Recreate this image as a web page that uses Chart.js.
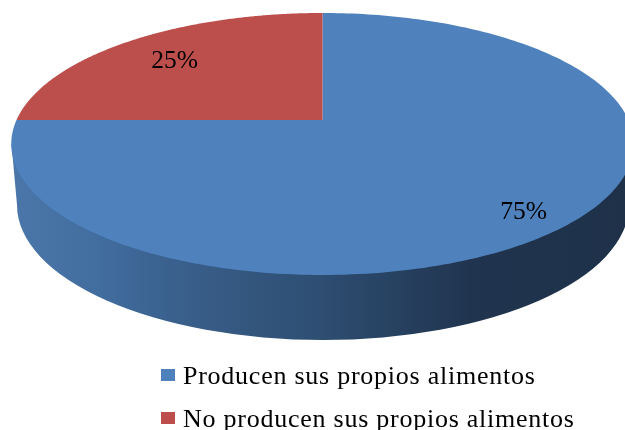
<!DOCTYPE html>
<html><head><meta charset="utf-8">
<style>html,body{margin:0;padding:0;background:#fff;overflow:hidden}canvas{display:block}</style>
<script src="https://cdn.jsdelivr.net/npm/chart.js@4"></script>
</head><body><canvas id="c" width="625" height="430"></canvas>
<script>
const categories = ['Producen sus propios alimentos', 'No producen sus propios alimentos'];
const shares = [75, 25];
const sliceColors = ['#4f81bd', '#bc4f4c'];
const labelSpots = [{r: 0.83, dy: 9}, {r: 0.75, dy: 2}];
const fontFamily = '"Liberation Serif", serif';
const tilt = {x: 322.5, y: 120, rx: 306, ry: 126.6, k: -0.183};
const rim = {x: 323, y: 205, rx: 306, ry: 135};
const topEdge = {x: 322.5, y: 144, rx: 311};
const sideStops = [[0, '#4a76a9'], [0.14, '#416d9f'], [0.3, '#385d88'], [0.5, '#2e4e72'], [0.75, '#20344f'], [1, '#1e3149']];

function project(t, f) {
  const u = Math.cos(t) * f, v = Math.sin(t) * f, d = 1 + tilt.k * v;
  return [tilt.x + tilt.rx * u / d, tilt.y + tilt.ry * v / d];
}
const swatch = color => {
  const c = document.createElement('canvas');
  c.width = 14; c.height = 16;
  const g = c.getContext('2d');
  g.fillStyle = color; g.fillRect(0, 0, 14, 12);
  return c;
};
const tiltPie = {
  id: 'tiltPie',
  beforeDraw(chart) {
    chart.ctx.letterSpacing = '0.75px';
  },
  beforeDatasetDraw(chart, args) {
    const ctx = chart.ctx;
    ctx.letterSpacing = '0px';
    ctx.save();
    // side wall
    const grad = ctx.createLinearGradient(12, 0, 625, 0);
    sideStops.forEach(s => grad.addColorStop(s[0], s[1]));
    ctx.fillStyle = grad;
    ctx.beginPath();
    ctx.ellipse(rim.x, rim.y, rim.rx, rim.ry, 0, 0, Math.PI);
    ctx.lineTo(topEdge.x - topEdge.rx, topEdge.y);
    ctx.lineTo(topEdge.x + topEdge.rx, topEdge.y);
    ctx.closePath();
    ctx.fill();
    // top face from the library's arc elements
    args.meta.data.forEach((el, i) => {
      const p = el.getProps(['startAngle', 'endAngle'], true);
      ctx.beginPath();
      ctx.moveTo(tilt.x, tilt.y);
      const n = 240;
      for (let j = 0; j <= n; j++) {
        const q = project(p.startAngle + (p.endAngle - p.startAngle) * j / n, 1);
        ctx.lineTo(q[0], q[1]);
      }
      ctx.closePath();
      ctx.fillStyle = sliceColors[i];
      ctx.fill();
    });
    // labels
    ctx.fillStyle = '#000';
    ctx.font = '25.5px ' + fontFamily;
    ctx.textAlign = 'center';
    ctx.textBaseline = 'middle';
    args.meta.data.forEach((el, i) => {
      const p = el.getProps(['startAngle', 'endAngle'], true);
      const q = project((p.startAngle + p.endAngle) / 2, labelSpots[i].r);
      ctx.fillText(shares[i] + '%', q[0], q[1] + labelSpots[i].dy);
    });
    ctx.restore();
    return false;
  },
  afterLayout(chart) {
    const lg = chart.legend;
    lg.left = 166 - lg.options.labels.padding; lg.right = 625;
    lg.top = 364 - lg.options.labels.padding; lg.bottom = 430;
  }
};
new Chart(document.getElementById('c'), {
  type: 'pie',
  data: {labels: categories, datasets: [{data: shares, backgroundColor: sliceColors, borderWidth: 0}]},
  plugins: [tiltPie],
  options: {
    responsive: false,
    animation: false,
    layout: {padding: 0},
    plugins: {
      tooltip: {enabled: false},
      legend: {
        position: 'bottom',
        align: 'start',
        labels: {
          color: '#000',
          font: {family: fontFamily, size: 26},
          padding: 17,
          boxWidth: 4,
          boxHeight: 12,
          usePointStyle: true,
          generateLabels: () => categories.map((t, i) => ({
            text: t, fillStyle: sliceColors[i], strokeStyle: sliceColors[i], lineWidth: 0,
            pointStyle: swatch(sliceColors[i]), hidden: false, index: i
          }))
        }
      }
    }
  }
});
</script></body></html>
